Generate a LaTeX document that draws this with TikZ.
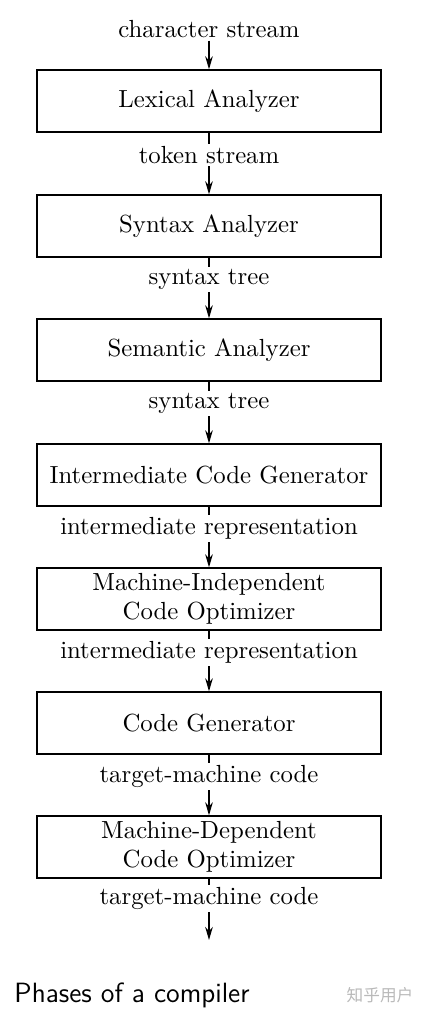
\documentclass[tikz,border=0pt]{standalone}
\usepackage{fontspec}
\newfontfamily\cjk{Noto Sans CJK SC}
\usepackage{tikz}
\usetikzlibrary{arrows.meta, positioning}

\begin{document}
\begin{tikzpicture}[
    x=0.42pt, y=-0.42pt,
    >={Stealth[length=5.5pt, width=3.2pt]},
    font=\fontsize{10.4}{12}\selectfont,
    phase/.style={draw, semithick, minimum width=144.5pt, minimum height=26pt, align=center, inner sep=1pt},
    flow/.style={fill=white, inner sep=1pt},
]
    \useasboundingbox (0,0) rectangle (420,1017);

    % Phases
    \node[phase] (lex) at (209,101) {Lexical Analyzer};
    \node[phase] (syn) at (209,226) {Syntax Analyzer};
    \node[phase] (sem) at (209,350) {Semantic Analyzer};
    \node[phase] (icg) at (209,475) {Intermediate Code Generator};
    \node[phase] (mio) at (209,599) {Machine-Independent\\Code Optimizer};
    \node[phase] (cg) at (209,723) {Code Generator};
    \node[phase] (mdo) at (209,847) {Machine-Dependent\\Code Optimizer};

    % Input and output
    \node[flow] (src) at (209,29) {character stream};
    \coordinate (out) at (209,940);

    % Arrows with stream labels
    \draw[semithick, ->] (src) -- (lex);
    \draw[semithick, ->] (lex) -- node[flow, pos=0.36] {token stream} (syn);
    \draw[semithick, ->] (syn) -- node[flow, pos=0.36] {syntax tree} (sem);
    \draw[semithick, ->] (sem) -- node[flow, pos=0.36] {syntax tree} (icg);
    \draw[semithick, ->] (icg) -- node[flow, pos=0.36] {intermediate representation} (mio);
    \draw[semithick, ->] (mio) -- node[flow, pos=0.36] {intermediate representation} (cg);
    \draw[semithick, ->] (cg) -- node[flow, pos=0.36] {target-machine code} (mdo);
    \draw[semithick, ->] (mdo) -- node[flow, pos=0.33] {target-machine code} (out);

    % Caption
    \node[anchor=west, font=\fontsize{11.7}{14}\selectfont\sffamily] (cap) at (6,995) {Phases of a compiler};
    \node[font=\scriptsize\cjk, text=gray!55] (mark) at (380,995) {知乎用户};
\end{tikzpicture}
\end{document}
